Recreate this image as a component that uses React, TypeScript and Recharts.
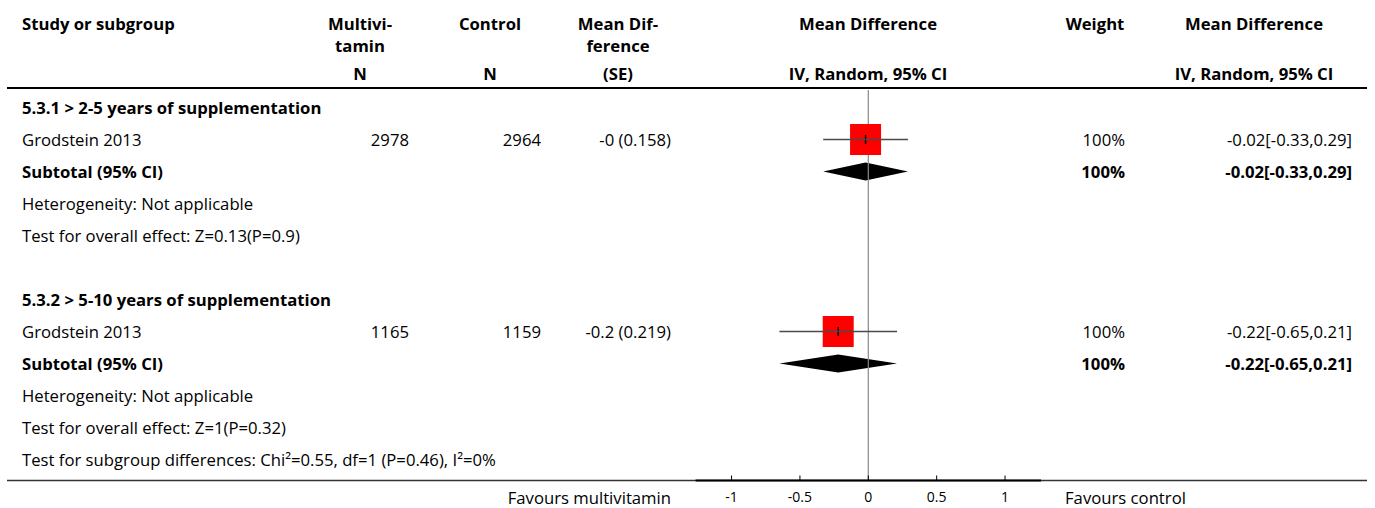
import { ComposedChart, XAxis, YAxis, Scatter, ReferenceLine, ReferenceArea, Customized } from 'recharts'

const FONT = '"Open Sans", Roboto, sans-serif'
const FS = 16.7

// table rows, top to bottom (row index = position under the header)
const ROW_LABELS = [
  '5.3.1 > 2-5 years of supplementation',
  'Grodstein 2013',
  'Subtotal (95% CI)',
  'Heterogeneity: Not applicable',
  'Test for overall effect: Z=0.13(P=0.9)',
  '',
  '5.3.2 > 5-10 years of supplementation',
  'Grodstein 2013',
  'Subtotal (95% CI)',
  'Heterogeneity: Not applicable',
  'Test for overall effect: Z=1(P=0.32)',
  'Test for subgroup differences: Chi²=0.55, df=1 (P=0.46), I²=0%',
]
const ROW_BOLD = [true, false, true, false, false, false, true, false, true, false, false, false]
const MULTI_N = ['', '2978', '', '', '', '', '', '1165', '', '', '', '']
const CONTROL_N = ['', '2964', '', '', '', '', '', '1159', '', '', '', '']
const MD_SE = ['', '-0 (0.158)', '', '', '', '', '', '-0.2 (0.219)', '', '', '', '']
const WEIGHT = ['', '100%', '100%', '', '', '', '', '100%', '100%', '', '', '']
const CI_TEXT = ['', '-0.02[-0.33,0.29]', '-0.02[-0.33,0.29]', '', '', '', '', '-0.22[-0.65,0.21]', '-0.22[-0.65,0.21]', '', '', '']
const ROW_INDEX = ROW_LABELS.map((_, i) => i)

// studies
const STUDY_ROW = [1, 7]
const STUDY_MD = [-0.02, -0.22]
const STUDY_LO = [-0.33, -0.65]
const STUDY_HI = [0.29, 0.21]
const STUDY_WEIGHT = [100, 100]

// subtotals
const SUB_ROW = [2, 8]
const SUB_MD = [-0.02, -0.22]
const SUB_LO = [-0.33, -0.65]
const SUB_HI = [0.29, 0.21]

const X_TICKS = [-1, -0.5, 0, 0.5, 1]
const X_DOMAIN = [-1.263, 1.263]
const Y_DOMAIN = [-0.547, 11.656]

const studies = STUDY_ROW.map((row, i) => ({ x: STUDY_MD[i], y: row, w: STUDY_WEIGHT[i] }))

function RowTick({ y, payload }: { y?: number; payload?: { value: number } }) {
  if (y == null || !payload) return null
  const i = payload.value
  const bold = ROW_BOLD[i]
  const sub = SUB_ROW.includes(i)
  const common = { y, dominantBaseline: 'central' as const, fontFamily: FONT, fontSize: FS, fill: '#000' }
  return (
    <g>
      <text {...common} x={22} fontWeight={bold ? 700 : 400}>{ROW_LABELS[i]}</text>
      <text {...common} x={409} textAnchor="end">{MULTI_N[i]}</text>
      <text {...common} x={541} textAnchor="end">{CONTROL_N[i]}</text>
      <text {...common} x={671} textAnchor="end">{MD_SE[i]}</text>
      <text {...common} x={1125} textAnchor="end" fontWeight={sub ? 700 : 400}>{WEIGHT[i]}</text>
      <text {...common} x={1352} textAnchor="end" fontWeight={sub ? 700 : 400}>{CI_TEXT[i]}</text>
    </g>
  )
}

function AxisTick({ x, y, payload }: { x?: number; y?: number; payload?: { value: number } }) {
  if (x == null || y == null || !payload) return null
  return (
    <g>
      <line x1={x} x2={x} y1={y - 16} y2={y - 21} stroke="#000" strokeWidth={1} />
      <text x={x} y={y} textAnchor="middle" dominantBaseline="central" fontFamily={FONT} fontSize={14} fill="#000">
        {payload.value}
      </text>
    </g>
  )
}

function StudyBox(props: { cx?: number; cy?: number; payload?: { w: number } }) {
  const { cx, cy, payload } = props
  if (cx == null || cy == null) return <g />
  const s = 31 * Math.sqrt((payload?.w ?? 100) / 100)
  return (
    <g>
      <rect x={cx - s / 2} y={cy - s / 2} width={s} height={s} fill="#ff0000" />
      <line x1={cx} x2={cx} y1={cy - 4.5} y2={cy + 4.5} stroke="#000" strokeWidth={1.5} />
    </g>
  )
}

function diamond(md: number, lo: number, hi: number) {
  return (p: { x?: number; y?: number; width?: number; height?: number }) => {
    const { x = 0, y = 0, width = 0, height = 0 } = p
    const cx = x + (width * (md - lo)) / (hi - lo)
    const cy = y + height / 2
    return <polygon points={`${x},${cy} ${cx},${y} ${x + width},${cy} ${cx},${y + height}`} fill="#000" />
  }
}

function Frame() {
  const bold = { fontFamily: FONT, fontSize: FS, fontWeight: 700, fill: '#000', dominantBaseline: 'central' as const }
  const norm = { fontFamily: FONT, fontSize: FS, fill: '#000', dominantBaseline: 'central' as const }
  return (
    <g>
      <text {...bold} x={22} y={23}>Study or subgroup</text>
      <text {...bold} x={360} y={23} textAnchor="middle">Multivi-</text>
      <text {...bold} x={360} y={45} textAnchor="middle">tamin</text>
      <text {...bold} x={360} y={73} textAnchor="middle">N</text>
      <text {...bold} x={490} y={23} textAnchor="middle">Control</text>
      <text {...bold} x={490} y={73} textAnchor="middle">N</text>
      <text {...bold} x={618} y={23} textAnchor="middle">Mean Dif-</text>
      <text {...bold} x={618} y={45} textAnchor="middle">ference</text>
      <text {...bold} x={618} y={73} textAnchor="middle">(SE)</text>
      <text {...bold} x={868} y={23} textAnchor="middle">Mean Difference</text>
      <text {...bold} x={868} y={73} textAnchor="middle">IV, Random, 95% CI</text>
      <text {...bold} x={1095} y={23} textAnchor="middle">Weight</text>
      <text {...bold} x={1254} y={23} textAnchor="middle">Mean Difference</text>
      <text {...bold} x={1254} y={73} textAnchor="middle">IV, Random, 95% CI</text>
      <line x1={7} x2={1367} y1={88} y2={88} stroke="#000" strokeWidth={2} />
      <line x1={7} x2={1367} y1={480.5} y2={480.5} stroke="#333" strokeWidth={1.5} />
      <text {...norm} x={671} y={497} textAnchor="end">Favours multivitamin</text>
      <text {...norm} x={1065} y={497}>Favours control</text>
    </g>
  )
}

export default function App() {
  return (
    <div style={{ position: 'absolute', left: 0, top: 0, width: 1375, height: 508, background: '#fff' }}>
      <ComposedChart width={1375} height={508} margin={{ top: 90, right: 334, bottom: 7.5, left: 694.6 }}>
        <Customized component={Frame} />
        <XAxis type="number" dataKey="x" domain={X_DOMAIN} ticks={X_TICKS} allowDataOverflow height={20}
          axisLine={{ stroke: '#000', strokeWidth: 2 }} tickLine={false} tickSize={6} tickMargin={10}
          interval={0} tick={<AxisTick />} />
        <YAxis type="number" dataKey="y" domain={Y_DOMAIN} reversed allowDataOverflow width={1}
          ticks={ROW_INDEX} interval={0} axisLine={false} tickLine={false} tick={<RowTick />} />
        <ReferenceLine x={0} stroke="#888" strokeWidth={1.2} ifOverflow="visible" />
        {SUB_ROW.map((row, i) => (
          <ReferenceArea key={`d${i}`} x1={SUB_LO[i]} x2={SUB_HI[i]} y1={row - 0.28} y2={row + 0.28}
            ifOverflow="visible" shape={diamond(SUB_MD[i], SUB_LO[i], SUB_HI[i])} />
        ))}
        <Scatter data={studies} shape={<StudyBox />} isAnimationActive={false} />
        {STUDY_ROW.map((row, i) => (
          <Scatter key={`w${i}`} data={[{ x: STUDY_LO[i], y: row }, { x: STUDY_HI[i], y: row }]}
            line={{ stroke: '#4a4a4a', strokeWidth: 1.6 }} shape={() => <g />} isAnimationActive={false} />
        ))}
      </ComposedChart>
    </div>
  )
}
